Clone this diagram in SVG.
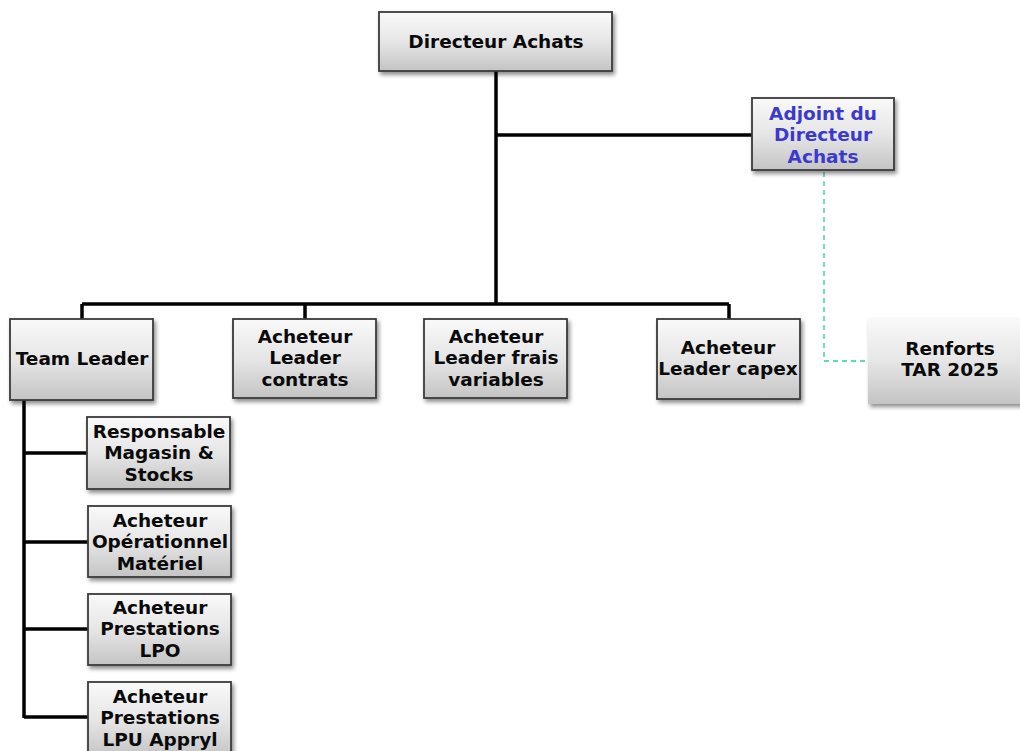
<svg xmlns="http://www.w3.org/2000/svg" width="1020" height="751" viewBox="0 0 1020 751">
<defs>
<linearGradient id="g" x1="0" y1="0" x2="0" y2="1">
<stop offset="0" stop-color="#f9f9f9"/>
<stop offset="0.5" stop-color="#e6e6e6"/>
<stop offset="1" stop-color="#c4c4c4"/>
</linearGradient>
<filter id="sh" x="-10%" y="-10%" width="130%" height="140%">
<feGaussianBlur in="SourceAlpha" stdDeviation="2"/>
<feOffset dx="2" dy="3" result="b"/>
<feComponentTransfer><feFuncA type="linear" slope="0.45"/></feComponentTransfer>
<feMerge><feMergeNode/><feMergeNode in="SourceGraphic"/></feMerge>
</filter>
</defs>
<style>
.box{fill:url(#g);stroke:#3a3a3a;stroke-width:1.8;filter:url(#sh)}
.nb{fill:url(#g);stroke:none;filter:url(#sh)}
text{font-family:"DejaVu Sans",Verdana,sans-serif;font-weight:bold;font-size:18.5px;fill:#0a0a0a;text-anchor:middle}
.blue{fill:#3a3acc}
.ln{stroke:#000;stroke-width:3.5;fill:none}
.dash{stroke:#2ad0a0;stroke-width:1.3;fill:none;stroke-dasharray:5 4}
</style>
<rect width="1020" height="751" fill="#fff"/>
<g id="connectors">
<path class="ln" d="M496 71V304M496 135H752M82 304H729M82 304V319M305 304V319M729 304V319M24 400V718M24 453H88M24 542H88M24 629H88M24 717H88"/>
<path class="dash" d="M824 172V361H868"/>
</g>
<g id="n-directeur"><rect class="box" x="379" y="12" width="233" height="59"/><text x="496" y="48">Directeur Achats</text></g>
<g id="n-adjoint"><rect class="box" x="752" y="98" width="142" height="72"/><text class="blue" x="823" y="120">Adjoint du</text><text class="blue" x="823" y="141">Directeur</text><text class="blue" x="823" y="163">Achats</text></g>
<g id="n-team"><rect class="box" x="10" y="319" width="143" height="81"/><text x="82" y="365">Team Leader</text></g>
<g id="n-contrats"><rect class="box" x="233" y="319" width="143" height="79"/><text x="305" y="343">Acheteur</text><text x="305" y="364">Leader</text><text x="305" y="386">contrats</text></g>
<g id="n-frais"><rect class="box" x="424" y="319" width="143" height="79"/><text x="496" y="343">Acheteur</text><text x="496" y="364">Leader frais</text><text x="496" y="386">variables</text></g>
<g id="n-capex"><rect class="box" x="657" y="319" width="143" height="80"/><text x="728" y="354">Acheteur</text><text x="728" y="375">Leader capex</text></g>
<g id="n-renforts"><rect class="nb" x="868" y="318" width="156" height="86"/><text x="950" y="355">Renforts</text><text x="950" y="376">TAR 2025</text></g>
<g id="n-magasin"><rect class="box" x="87" y="417" width="143" height="72"/><text x="159" y="438">Responsable</text><text x="159" y="459">Magasin &amp;</text><text x="159" y="481">Stocks</text></g>
<g id="n-materiel"><rect class="box" x="88" y="506" width="143" height="71"/><text x="160" y="527">Acheteur</text><text x="160" y="548">Opérationnel</text><text x="160" y="570">Matériel</text></g>
<g id="n-lpo"><rect class="box" x="88" y="594" width="143" height="71"/><text x="160" y="614">Acheteur</text><text x="160" y="635">Prestations</text><text x="160" y="657">LPO</text></g>
<g id="n-lpu"><rect class="box" x="88" y="682" width="143" height="75"/><text x="160" y="703">Acheteur</text><text x="160" y="724">Prestations</text><text x="160" y="746">LPU Appryl</text></g>
</svg>
